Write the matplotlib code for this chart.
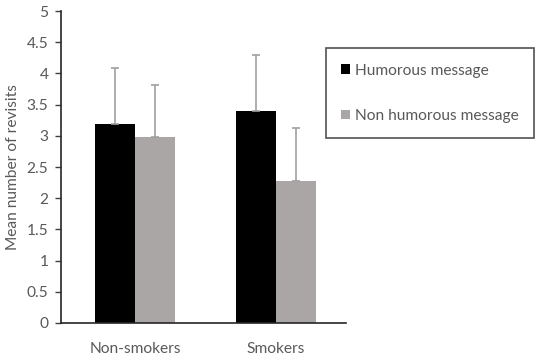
import numpy as np
import matplotlib
matplotlib.use('Agg')
from matplotlib import pyplot as plt
from matplotlib.patches import Patch

# Data
groups = ['Non-smokers', 'Smokers']
humorous = [3.19, 3.40]
humorous_err = [0.90, 0.89]
non_humorous = [2.98, 2.28]
non_humorous_err = [0.83, 0.84]
series_names = ['Humorous message', 'Non humorous message']

plt.rcParams['font.family'] = ['Lato', 'DejaVu Sans']
text_color = '#595959'
fsize = 11.2

fig = plt.figure(figsize=(5.36, 3.56), dpi=100)
ax = fig.add_axes([0.1138, 0.0927, 0.5317, 0.8763])

x = np.arange(len(groups))
width = 0.284
err_style = dict(ecolor='#a0a0a0', elinewidth=1.2, capsize=3, capthick=1.2)

ax.bar(x - width / 2, humorous, width, color='black',
       yerr=[np.zeros(len(groups)), humorous_err], error_kw=err_style)
ax.bar(x + width / 2, non_humorous, width, color='#aaa6a6',
       yerr=[np.zeros(len(groups)), non_humorous_err], error_kw=err_style)

ax.set_xlim(-0.525, 1.496)
ax.set_ylim(0, 5)
ax.set_yticks(np.arange(0, 5.01, 0.5))
ax.set_yticklabels(['0', '0.5', '1', '1.5', '2', '2.5', '3', '3.5', '4', '4.5', '5'])
ax.set_xticks(x)
ax.set_xticklabels(groups)
ax.tick_params(axis='x', length=0, pad=14, labelsize=fsize, labelcolor=text_color)
ax.tick_params(axis='y', length=4, width=1, color='#404040', pad=5,
               labelsize=fsize, labelcolor=text_color)
ax.set_ylabel('Mean number of revisits', fontsize=fsize, color=text_color, labelpad=5)

for side in ['top', 'right']:
    ax.spines[side].set_visible(False)
for side in ['left', 'bottom']:
    ax.spines[side].set_color('#262626')
    ax.spines[side].set_linewidth(1.2)

handles = [Patch(facecolor='black'), Patch(facecolor='#aaa6a6')]
leg = fig.legend(handles, series_names, loc='upper left',
                 bbox_to_anchor=(0.608, 0.865), frameon=True, fancybox=False,
                 handlelength=0.55, handleheight=0.55, handletextpad=0.3,
                 labelspacing=2.0, borderpad=1.0, fontsize=fsize,
                 labelcolor=text_color, borderaxespad=0)
leg.get_frame().set_edgecolor('#262626')
leg.get_frame().set_linewidth(1.2)

fig.savefig('out.png', dpi=100)
